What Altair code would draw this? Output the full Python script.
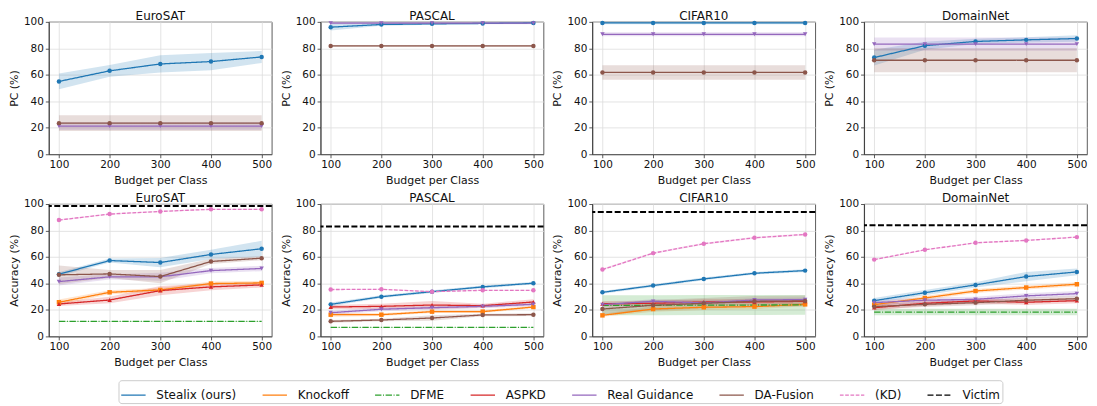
import altair as alt
import pandas as pd

BUDGET = [100, 200, 300, 400, 500]
METHODS = ["Stealix (ours)", "Knockoff", "DFME", "ASPKD", "Real Guidance",
           "DA-Fusion", "(KD)", "Victim"]
COLORS = ["#1f77b4", "#ff7f0e", "#2ca02c", "#d62728", "#9467bd",
          "#8c564b", "#e377c2", "#000000"]
DASHES = [[1, 0], [1, 0], [6.4, 1.6, 1, 1.6], [1, 0], [1, 0], [1, 0],
          [3.7, 1.6], [6, 2.5]]
BAND_METHODS = METHODS[:-1]
BAND_COLORS = COLORS[:-1]
MARKER_METHODS = ["Stealix (ours)", "Knockoff", "ASPKD", "Real Guidance",
                  "DA-Fusion", "(KD)"]
MARKER_COLORS = ["#1f77b4", "#ff7f0e", "#d62728", "#9467bd", "#8c564b", "#e377c2"]
MARKER_SHAPES = ["circle", "square", "triangle-up", "triangle-down",
                 "circle", "circle"]
DATASETS = ["EuroSAT", "PASCAL", "CIFAR10", "DomainNet"]
Y_TICKS = [0, 20, 40, 60, 80, 100]

# ---- Top row: PC (%) ----
PC_EUROSAT = {"Stealix (ours)": [55, 63, 68.2, 70, 73.5],
              "Real Guidance": [21.3] * 5,
              "DA-Fusion": [23.5] * 5}
PC_EUROSAT_SD = {"Stealix (ours)": [6, 4.5, 6.5, 6.5, 4.5],
                 "Real Guidance": [3] * 5,
                 "DA-Fusion": [6] * 5}
PC_PASCAL = {"Stealix (ours)": [96, 98, 98.5, 98.8, 99.2],
             "Real Guidance": [99] * 5,
             "DA-Fusion": [81.8] * 5}
PC_PASCAL_SD = {"Stealix (ours)": [2.5, 1, 0.7, 0.5, 0.5],
                "Real Guidance": [0.8] * 5,
                "DA-Fusion": [0.8] * 5}
PC_CIFAR10 = {"Stealix (ours)": [99.2] * 5,
              "Real Guidance": [90.6] * 5,
              "DA-Fusion": [61.8] * 5}
PC_CIFAR10_SD = {"Stealix (ours)": [1] * 5,
                 "Real Guidance": [1.5] * 5,
                 "DA-Fusion": [5.5] * 5}
PC_DOMAINNET = {"Stealix (ours)": [73, 82, 85.2, 86.4, 87.4],
                "Real Guidance": [83.2] * 5,
                "DA-Fusion": [71] * 5}
PC_DOMAINNET_SD = {"Stealix (ours)": [6, 3, 2, 2, 2.5],
                   "Real Guidance": [5] * 5,
                   "DA-Fusion": [9] * 5}

# ---- Bottom row: Accuracy (%) ----
ACC_EUROSAT = {"Stealix (ours)": [47, 57.3, 55.8, 61.9, 66.2],
               "Knockoff": [25.8, 33.3, 35.1, 39.9, 40.4],
               "DFME": [11.4] * 5,
               "ASPKD": [24.5, 27.5, 34.6, 37.4, 38.9],
               "Real Guidance": [41.4, 45, 45, 49.7, 51.3],
               "DA-Fusion": [46.5, 47.2, 45.2, 56.6, 59.1],
               "(KD)": [87.9, 92.4, 94.4, 96, 96]}
ACC_EUROSAT_SD = {"Stealix (ours)": [1.5, 1.5, 3.5, 3.5, 6],
                  "Knockoff": [2, 1.5, 1.5, 1.5, 1.5],
                  "DFME": [0.3] * 5,
                  "ASPKD": [1.5, 2.5, 3.5, 2.5, 2],
                  "Real Guidance": [3, 2, 3, 2, 2],
                  "DA-Fusion": [7, 3, 5, 2, 1.5],
                  "(KD)": [0.5] * 5}
ACC_PASCAL = {"Stealix (ours)": [24.2, 30, 33.8, 37.4, 40.2],
              "Knockoff": [16.4, 16.4, 18.7, 18.7, 22.2],
              "DFME": [6.8] * 5,
              "ASPKD": [22.2, 22.7, 23.7, 23.2, 26],
              "Real Guidance": [17.9, 20.5, 21.7, 22.7, 24.2],
              "DA-Fusion": [11.4, 12.4, 13.9, 16.2, 16.4],
              "(KD)": [35.4, 35.6, 33.8, 34.8, 34.8]}
ACC_PASCAL_SD = {"Stealix (ours)": [1.5, 1, 1, 1, 1],
                 "Knockoff": [1.5, 1, 1, 1, 1],
                 "DFME": [0.2] * 5,
                 "ASPKD": [1.5, 2, 3, 1.5, 2],
                 "Real Guidance": [1.5] * 5,
                 "DA-Fusion": [1, 1, 2, 1, 1],
                 "(KD)": [0.4] * 5}
ACC_CIFAR10 = {"Stealix (ours)": [33.3, 38.4, 43.4, 47.7, 49.7],
               "Knockoff": [15.9, 20.7, 22, 22.5, 24.2],
               "DFME": [23.5, 23.5, 23.7, 23.7, 23.8],
               "ASPKD": [24.7, 25, 26, 26, 26.5],
               "Real Guidance": [24, 26.5, 25.3, 27.5, 27.8],
               "DA-Fusion": [20.7, 23.5, 25, 26.5, 26.8],
               "(KD)": [50.5, 62.9, 70, 74.5, 77]}
ACC_CIFAR10_SD = {"Stealix (ours)": [1] * 5,
                  "Knockoff": [1, 2, 2, 2, 1.5],
                  "DFME": [7.5] * 5,
                  "ASPKD": [2] * 5,
                  "Real Guidance": [1.5] * 5,
                  "DA-Fusion": [4] * 5,
                  "(KD)": [0.7] * 5}
ACC_DOMAINNET = {"Stealix (ours)": [27, 33, 38.9, 45.2, 48.7],
                 "Knockoff": [24, 29, 34.3, 36.9, 39.4],
                 "DFME": [18.4] * 5,
                 "ASPKD": [21.7, 25, 26.8, 25.8, 27],
                 "Real Guidance": [25.5, 27.3, 28, 30.6, 32.3],
                 "DA-Fusion": [22.5, 24.2, 25.5, 27.3, 28.5],
                 "(KD)": [58, 65.4, 70.7, 72.5, 75]}
ACC_DOMAINNET_SD = {"Stealix (ours)": [2, 2, 2, 3.5, 2.5],
                    "Knockoff": [1.5] * 5,
                    "DFME": [2.5] * 5,
                    "ASPKD": [2] * 5,
                    "Real Guidance": [2] * 5,
                    "DA-Fusion": [2] * 5,
                    "(KD)": [0.5] * 5}
VICTIM = [98.5, 83, 94, 84]

PC_DATA = [(PC_EUROSAT, PC_EUROSAT_SD), (PC_PASCAL, PC_PASCAL_SD),
           (PC_CIFAR10, PC_CIFAR10_SD), (PC_DOMAINNET, PC_DOMAINNET_SD)]
ACC_DATA = [(ACC_EUROSAT, ACC_EUROSAT_SD), (ACC_PASCAL, ACC_PASCAL_SD),
            (ACC_CIFAR10, ACC_CIFAR10_SD), (ACC_DOMAINNET, ACC_DOMAINNET_SD)]

FONT = "DejaVu Sans"
PW, PH = 224, 133

color_scale = alt.Scale(domain=METHODS, range=COLORS)
band_scale = alt.Scale(domain=BAND_METHODS, range=BAND_COLORS)
marker_fill_scale = alt.Scale(domain=MARKER_METHODS, range=MARKER_COLORS)
dash_scale = alt.Scale(domain=METHODS, range=DASHES)
shape_scale = alt.Scale(domain=MARKER_METHODS, range=MARKER_SHAPES)
x_scale = alt.Scale(domain=[80, 520], nice=False, zero=False)
y_scale = alt.Scale(domain=[0, 100], nice=False)

LEGEND = alt.Legend(
    title=None, orient="none", legendX=70, legendY=360, direction="horizontal",
    columns=8, symbolType="stroke", symbolSize=600, symbolStrokeWidth=1.5,
    labelFont=FONT, labelFontSize=12, labelColor="#111", labelOffset=10,
    columnPadding=22, strokeColor="#cccccc", fillColor="white",
    cornerRadius=3, padding=2,
)


def panel(title, means, sds, ytitle, victim=None):
    rows = []
    for m in METHODS:
        if m in means:
            for b, v, s in zip(BUDGET, means[m], sds[m]):
                rows.append({"budget": b, "method": m, "mean": v,
                             "lo": v - s, "hi": v + s})
    df = pd.DataFrame(rows)
    x = alt.X("budget:Q", scale=x_scale,
              axis=alt.Axis(values=BUDGET, title="Budget per Class", format="d"))
    y_axis = alt.Axis(values=Y_TICKS, title=ytitle)
    base = alt.Chart(df)
    area = base.mark_area(fillOpacity=0.2).encode(
        x=x,
        y=alt.Y("lo:Q", scale=y_scale, axis=y_axis),
        y2="hi:Q",
        fill=alt.Fill("method:N", scale=band_scale, legend=None),
        detail="method:N",
    )
    line = base.mark_line(strokeWidth=1.3).encode(
        x=x,
        y=alt.Y("mean:Q", scale=y_scale, axis=y_axis),
        color=alt.Color("method:N", scale=color_scale, legend=LEGEND),
        strokeDash=alt.StrokeDash("method:N", scale=dash_scale, legend=LEGEND),
    )
    pts = base.transform_filter(
        alt.FieldOneOfPredicate(field="method", oneOf=MARKER_METHODS)
    ).mark_point(filled=True, opacity=1, size=20, strokeWidth=0).encode(
        x=x,
        y=alt.Y("mean:Q", scale=y_scale, axis=y_axis),
        fill=alt.Fill("method:N", scale=marker_fill_scale, legend=None),
        shape=alt.Shape("method:N", scale=shape_scale, legend=None),
    )
    layers = [area, line, pts]
    if victim is not None:
        vdf = pd.DataFrame({"method": ["Victim"], "acc": [victim]})
        rule = alt.Chart(vdf).mark_rule(strokeWidth=2).encode(
            y=alt.Y("acc:Q", scale=y_scale, axis=y_axis),
            color=alt.Color("method:N", scale=color_scale, legend=LEGEND),
            strokeDash=alt.StrokeDash("method:N", scale=dash_scale, legend=LEGEND),
        )
        layers.append(rule)
    return alt.layer(*layers).properties(
        width=PW, height=PH,
        title=alt.TitleParams(title, fontSize=12, fontWeight="normal",
                              font=FONT, offset=-6, color="#111"),
    )


panels = []
for name, (m, s) in zip(DATASETS, PC_DATA):
    panels.append(panel(name, m, s, "PC (%)"))
for name, (m, s), v in zip(DATASETS, ACC_DATA, VICTIM):
    panels.append(panel(name, m, s, "Accuracy (%)", v))

chart = alt.concat(
    *panels, columns=4, spacing={"row": 50, "column": 49}, bounds="flush"
).properties(
    padding={"left": 0, "top": 0, "right": 0, "bottom": 0}
).configure(
    font=FONT
).configure_view(
    stroke="#333", strokeWidth=0.8
).configure_axis(
    grid=True, gridColor="#dddddd", gridWidth=0.8,
    domainColor="#333", domainWidth=0.8,
    tickColor="#333", tickSize=3.5, tickWidth=0.8,
    labelFont=FONT, labelFontSize=10.5, labelColor="#111", labelPadding=2,
    titleFont=FONT, titleFontSize=11, titleFontWeight="normal",
    titleColor="#111", titlePadding=4,
)

chart.save("out.html", embed_options={"renderer": "svg", "actions": False})
